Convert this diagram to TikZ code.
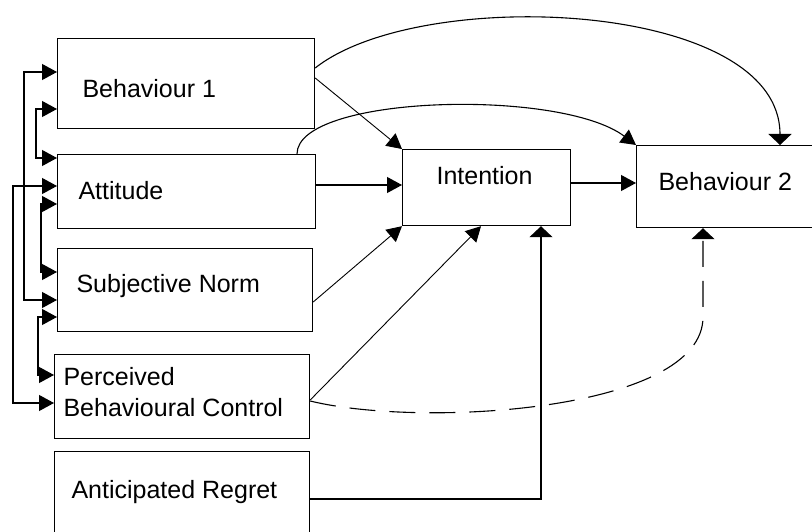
\documentclass[tikz,border=0pt]{standalone}
\usepackage{fontspec}
\setmainfont{Liberation Sans}
\usetikzlibrary{arrows.meta}
\begin{document}
\begin{tikzpicture}[x=1pt,y=-1pt,
  line width=1.1pt,
  box/.style={draw, line width=1.2pt, rectangle, inner sep=0pt, anchor=north west},
  lbl/.style={inner sep=0pt, anchor=base west, font=\fontsize{25}{30}\selectfont},
  arr/.style={-{Triangle[length=15pt,width=16pt]}},
  arrv/.style={-{Triangle[length=11pt,width=23pt]}},
  arrboth/.style={{Triangle[length=15pt,width=16pt]}-{Triangle[length=15pt,width=16pt]}},
  link/.style={line width=0.9pt}]
\useasboundingbox (0,0) rectangle (812,532);
\clip (0,0) rectangle (812,532);

% boxes
\node[box, minimum width=257pt, minimum height=90pt] (b1)  at (57,38)  {};
\node[box, minimum width=258pt, minimum height=74pt] (att) at (57,154) {};
\node[box, minimum width=255pt, minimum height=83pt] (sn)  at (57,248) {};
\node[box, minimum width=255pt, minimum height=84pt] (pbc) at (54,354) {};
\node[box, minimum width=255pt, minimum height=96pt] (ar)  at (54,451) {};
\node[box, minimum width=168pt, minimum height=76pt] (int) at (402,149) {};
\node[box, minimum width=182pt, minimum height=82pt] (b2)  at (636,145) {};

% labels
\node[lbl] (b1t)   at (82,98)  {Behaviour 1};
\node[lbl] (attt)  at (78,200) {Attitude};
\node[lbl] (snt)   at (76,292) {Subjective Norm};
\node[lbl] (pbct1) at (63,385) {Perceived};
\node[lbl] (pbct2) at (63,416) {Behavioural Control};
\node[lbl] (art)   at (71,498) {Anticipated Regret};
\node[lbl] (intt)  at (436,185) {Intention};
\node[lbl] (b2t)   at (658,191) {Behaviour 2};

% correlations between the predictors (left side)
\draw[arrboth] ([yshift=-34pt]b1.north west) -- ++(-33,0) |- ([yshift=-52pt]sn.north west);
\draw[arrboth] ([yshift=-71pt]b1.north west) -- ++(-21,0) |- ([yshift=-4pt]att.north west);
\draw[arrboth] ([yshift=-32pt]att.north west) -- ++(-44,0) |- ([yshift=-49pt]pbc.north west);
\draw[arrboth] ([yshift=-50pt]att.north west) -- ++(-16,0) |- ([yshift=-24pt]sn.north west);
\draw[arrboth] ([yshift=-69pt]sn.north west) -- ++(-19,0) |- ([yshift=-21pt]pbc.north west);

% paths into Intention
\draw[arr] ([yshift=-31pt]att.north east) -- ([yshift=-31pt]att.north east -| int.west);
\draw[arr, link] ([yshift=-40pt]b1.north east) -- (int.north west);
\draw[arr, link] ([yshift=-54pt]sn.north east) -- (int.south west);
\draw[arr, link] ([yshift=-46pt]pbc.north east) -- ([xshift=79pt]int.south west);
\draw[arrv] ([yshift=-48pt]ar.north east) -| ([xshift=139pt]int.south west);

% paths into Behaviour 2
\draw[arr] ([yshift=-34pt]int.north east) -- ([yshift=-34pt]int.north east -| b2.west);
\draw[arrv] ([yshift=-30pt]b1.north east) .. controls (420,-15) and (780,0) .. ([xshift=144pt]b2.north west);
\draw[arr] ([xshift=240pt]att.north west) .. controls (297,95) and (560,88) .. (b2.north west);
\coordinate (bend) at (703,317);
\draw[arrv, dash pattern=on 26pt off 14pt]
  ([yshift=-47pt]pbc.north east) .. controls (420,428) and (703,412) .. (bend)
  -- ([xshift=67pt]b2.south west);
\end{tikzpicture}
\end{document}
